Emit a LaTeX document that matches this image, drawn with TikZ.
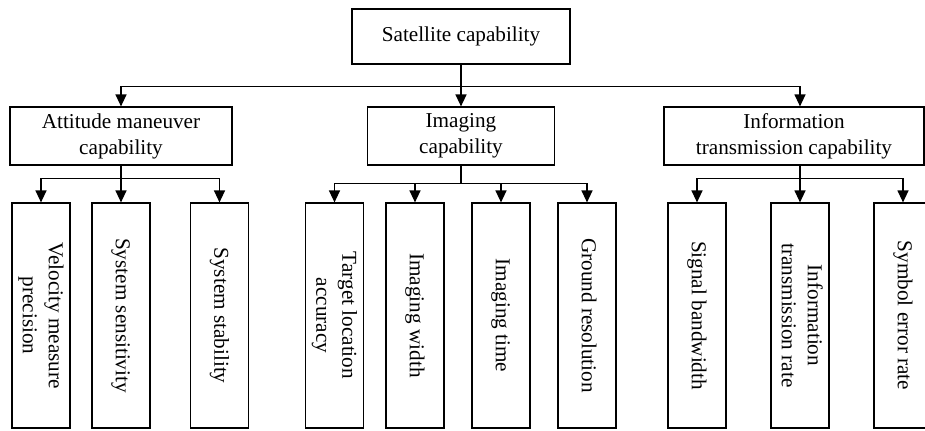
\documentclass[tikz,border=0pt]{standalone}
\usepackage{fontspec}
\setmainfont{Liberation Serif}
\usetikzlibrary{arrows.meta}
\newcommand{\vlabel}[1]{\rotatebox{-90}{\begin{tabular}{@{}c@{}}#1\end{tabular}}}
\tikzset{
  box/.style={draw, line width=0.6pt, inner sep=0pt, align=center, font=\fontsize{10.6}{13}\selectfont},
  leaf/.style={box, minimum width=29pt, minimum height=112.5pt},
  conn/.style={line width=0.65pt, -{Triangle[length=6pt,width=5.5pt]}}
}
\begin{document}
\begin{tikzpicture}[x=0.5pt, y=-0.5pt]
  \useasboundingbox (0,0) rectangle (925,430);
  \node[box, minimum width=109pt, minimum height=27.5pt] (sat) at (461,36.5) {Satellite capability};
  \node[box, minimum width=111pt, minimum height=29pt] (att) at (121,136) {Attitude maneuver\\capability};
  \node[box, minimum width=93.5pt, minimum height=29pt] (img) at (461,136) {Imaging\\capability};
  \node[box, minimum width=130pt, minimum height=29pt] (info) at (794,136) {Information\\transmission capability};
  \node[leaf] (vel) at (41,315.5) {\vlabel{Velocity measure\\precision}};
  \node[leaf] (sens) at (121,315.5) {\vlabel{System sensitivity}};
  \node[leaf] (stab) at (219.5,315.5) {\vlabel{System stability}};
  \node[leaf] (loc) at (334.5,315.5) {\vlabel{Target location\\accuracy}};
  \node[leaf] (wid) at (415,315.5) {\vlabel{Imaging width}};
  \node[leaf] (time) at (501,315.5) {\vlabel{Imaging time}};
  \node[leaf] (res) at (587,315.5) {\vlabel{Ground resolution}};
  \node[leaf] (band) at (697,315.5) {\vlabel{Signal bandwidth}};
  \node[leaf] (rate) at (800,315.5) {\vlabel{Information\\transmission rate}};
  \node[leaf] (ser) at (903,315.5) {\vlabel{Symbol error rate}};
  \draw[conn] (sat.south) -- ++(0,22) -| (att.north);
  \draw[conn] (sat.south) -- (img.north);
  \draw[conn] (sat.south) -- ++(0,22) -| (info.north -| rate.north);
  \draw[conn] (att.south) -- ++(0,13) -| (vel.north);
  \draw[conn] (att.south) -- (sens.north);
  \draw[conn] (att.south) -- ++(0,13) -| (stab.north);
  \draw[conn] (img.south) -- ++(0,18) -| (loc.north);
  \draw[conn] (img.south) -- ++(0,18) -| (wid.north);
  \draw[conn] (img.south) -- ++(0,18) -| (time.north);
  \draw[conn] (img.south) -- ++(0,18) -| (res.north);
  \draw[conn] (info.south -| rate.north) -- ++(0,13) -| (band.north);
  \draw[conn] (info.south -| rate.north) -- (rate.north);
  \draw[conn] (info.south -| rate.north) -- ++(0,13) -| (ser.north);
\end{tikzpicture}
\end{document}
